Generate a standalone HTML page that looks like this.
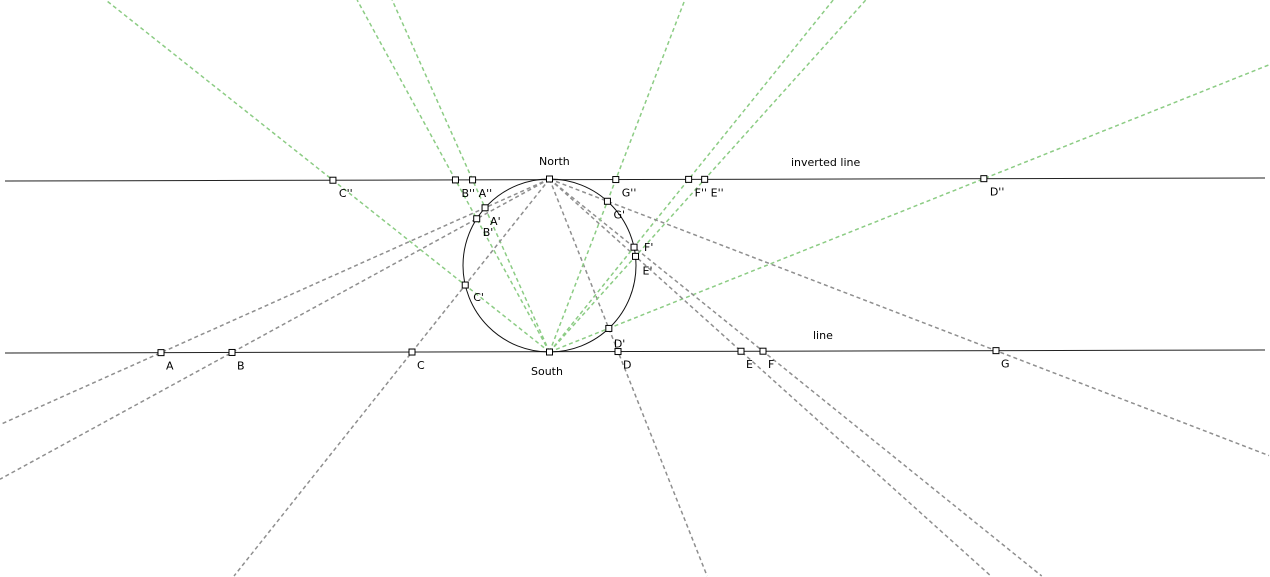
<!DOCTYPE html>
<html><head><meta charset="utf-8"><style>
html,body{margin:0;padding:0;background:#fff;width:1270px;height:577px;overflow:hidden}
svg{display:block;overflow:hidden}
svg text{font-family:"DejaVu Sans","Liberation Sans",sans-serif;font-size:11px;fill:#000}
</style></head><body>
<svg id="fig" width="1270" height="577" viewBox="0 0 1270 577" xmlns="http://www.w3.org/2000/svg"></svg>
<script>
// Data: x positions of the points on the base line
const pointNames = ["A","B","C","D","E","F","G"];
const pointX = [161,232,412,618,741,763,996];
const circleCenter = [549.5,265.5];
const circleRadius = 86.5;

const W=1270, H=577;
const svg = document.getElementById('fig');
const NS = 'http://www.w3.org/2000/svg';
function mk(tag, attrs){ const e=document.createElementNS(NS,tag); for(const k in attrs) e.setAttribute(k,attrs[k]); svg.appendChild(e); return e; }
function lineY(x, y0, y1){ return y0 + (x-5)*(y1-y0)/1260; }
const botY = x => lineY(x,353,350);
const topY = x => lineY(x,181,178);
const N=[circleCenter[0], circleCenter[1]-circleRadius];
const S=[circleCenter[0], circleCenter[1]+circleRadius];

let l = mk('line',{x1:5,y1:topY(5),x2:1265,y2:topY(1265),stroke:'#222','stroke-width':1});


l = mk('line',{x1:5,y1:botY(5),x2:1265,y2:botY(1265),stroke:'#222','stroke-width':1});


const c = mk('circle',{cx:circleCenter[0],cy:circleCenter[1],r:circleRadius,fill:'none',stroke:'#111','stroke-width':1});



function ray(from, through, color, name){
  const dx=through[0]-from[0], dy=through[1]-from[1];
  let k=1e9;
  if(dx>0) k=Math.min(k,(W-1-from[0])/dx);
  if(dx<0) k=Math.min(k,(0-from[0])/dx);
  if(dy>0) k=Math.min(k,(H-1-from[1])/dy);
  if(dy<0) k=Math.min(k,(0-from[1])/dy);
  const e=mk('line',{x1:from[0],y1:from[1],x2:from[0]+dx*k,y2:from[1]+dy*k,stroke:color,'stroke-width':1.5,'stroke-dasharray':'4 3'});
  
  
}
function pt(p,label,dx,dy,name){
  const r=mk('rect',{x:p[0]-3,y:p[1]-3,width:6,height:6,fill:'#fff',stroke:'#000','stroke-width':1});
  
  
  const t=mk('text',{x:p[0]+dx,y:p[1]+dy});
  t.textContent=label;
  
  
}
const pts=[];
pointNames.forEach((n,i)=>{
  const P=[pointX[i], botY(pointX[i])];
  const dx=P[0]-N[0], dy=P[1]-N[1], L=Math.hypot(dx,dy), u=[dx/L,dy/L];
  const t=-2*((N[0]-circleCenter[0])*u[0]+(N[1]-circleCenter[1])*u[1]);
  const Q=[N[0]+u[0]*t, N[1]+u[1]*t];
  const k=(topY(Q[0])-S[1])/(Q[1]-S[1]);
  const R=[S[0]+(Q[0]-S[0])*k, 0]; R[1]=topY(R[0]);
  pts.push({n,P,Q,R});
  ray(N,P,'#8f8f8f','gray-ray-'+n.toLowerCase());
  ray(S,R,'#8ccc84','green-ray-'+n.toLowerCase());
});
const prOff={A:[5,17],B:[6,17],C:[8,16],D:[5,19],E:[7,18],F:[10,4],G:[6,17]};
pts.forEach(o=>{
  pt(o.P,o.n,5,17,'point-'+o.n.toLowerCase());
  const off=prOff[o.n];
  pt(o.Q,o.n+"'",off[0],off[1],'point-'+o.n.toLowerCase()+'-prime');
  pt(o.R,o.n+"''",6,17,'point-'+o.n.toLowerCase()+'-double-prime');
});
pt(N,'',0,0,'north-point');
pt(S,'',0,0,'south-point');
let t=mk('text',{x:539,y:165}); t.textContent='North';
 
t=mk('text',{x:531,y:375}); t.textContent='South';
 
t=mk('text',{x:791,y:166}); t.textContent='inverted line';
 
t=mk('text',{x:813,y:339}); t.textContent='line';
 
</script>
</body></html>
